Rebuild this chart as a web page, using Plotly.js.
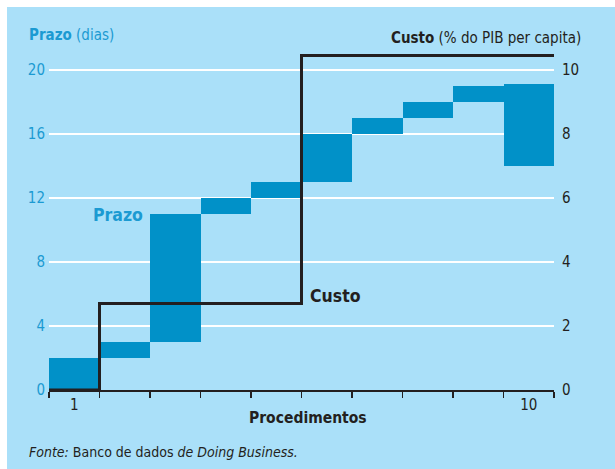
<!DOCTYPE html>
<html>
<head>
<meta charset="utf-8">
<script src="https://cdn.plot.ly/plotly-3.0.1.min.js"></script>
<style>
html,body{margin:0;padding:0;background:#ffffff;}
#chart{position:absolute;left:7px;top:7px;width:608px;height:462px;}
</style>
</head>
<body>
<div id="chart"></div>
<script>
// Data
const procedures = [1, 2, 3, 4, 5, 6, 7, 8, 9, 10];
const prazoStart = [0, 2, 3, 11, 12, 13, 16, 17, 18, 14];
const prazoEnd   = [2, 3, 11, 12, 13, 16, 17, 18, 19, 19.1];
const custo      = [0, 2.7, 2.7, 2.7, 2.7, 10.45, 10.45, 10.45, 10.45, 10.45];
const xTickLabels = ['1', '10'];
const xTickValues = [1, 10];
const leftTicks = [0, 4, 8, 12, 16, 20];
const rightTicks = [0, 2, 4, 6, 8, 10];

const FONT = "'DejaVu Sans Condensed', 'Liberation Sans Narrow', 'Liberation Sans', sans-serif";
const BLUE = '#0191C8';
const TXTBLUE = '#1B9AD2';
const DARK = '#231F20';
const BG = '#AAE0F9';

const barTrace = {
  type: 'bar',
  x: procedures,
  y: prazoEnd.map((e, i) => e - prazoStart[i]),
  base: prazoStart,
  width: 1,
  marker: {color: BLUE, line: {width: 0}},
  hoverinfo: 'skip',
  showlegend: false
};

const custoX = procedures.map(p => p - 0.5).concat([procedures[procedures.length - 1] + 0.5]);
const custoY = custo.concat([custo[custo.length - 1]]);
const lineTrace = {
  type: 'scatter',
  mode: 'lines',
  x: custoX,
  y: custoY,
  yaxis: 'y2',
  line: {color: DARK, width: 3, shape: 'hv'},
  hoverinfo: 'skip',
  showlegend: false
};

const layout = {
  width: 608,
  height: 462,
  paper_bgcolor: BG,
  plot_bgcolor: BG,
  margin: {l: 42, r: 61, t: 33, b: 79},
  font: {family: FONT, size: 15, color: DARK},
  bargap: 0,
  showlegend: false,
  xaxis: {
    range: [0.5, 10.5],
    tickmode: 'array',
    tickvals: xTickValues,
    ticktext: xTickLabels,
    ticks: '',
    showgrid: false,
    zeroline: false,
    showline: true,
    linecolor: DARK,
    linewidth: 1.5,
    tickfont: {family: FONT, size: 15, color: DARK},
    minor: {tickmode: 'linear', tick0: 0.5, dtick: 1, ticks: 'outside', ticklen: 6, tickwidth: 1.2, tickcolor: DARK, showgrid: false},
    fixedrange: true
  },
  yaxis: {
    range: [0, 21.875],
    tickmode: 'array',
    tickvals: leftTicks,
    ticks: '',
    ticklabelstandoff: 3,
    showgrid: true,
    gridcolor: '#ffffff',
    gridwidth: 2,
    zeroline: false,
    showline: false,
    tickfont: {family: FONT, size: 15, color: TXTBLUE},
    fixedrange: true
  },
  yaxis2: {
    range: [0, 10.9375],
    overlaying: 'y',
    side: 'right',
    tickmode: 'array',
    tickvals: rightTicks,
    ticks: '',
    ticklabelstandoff: 7,
    showgrid: false,
    zeroline: false,
    showline: false,
    tickfont: {family: FONT, size: 15, color: DARK},
    fixedrange: true
  },
  annotations: [
    {xref: 'paper', yref: 'paper', x: -0.0436, y: 1.014, xanchor: 'left', yanchor: 'middle', showarrow: false,
     text: '<b>Prazo</b> (dias)', font: {family: FONT, size: 15, color: TXTBLUE}},
    {xref: 'paper', yref: 'paper', x: 1.0574, y: 1.0057, xanchor: 'right', yanchor: 'middle', showarrow: false,
     text: '<b>Custo</b> (% do PIB per capita)', font: {family: FONT, size: 15, color: DARK}},
    {xref: 'x', yref: 'y', x: 1.87, y: 10.94, xanchor: 'center', yanchor: 'middle', showarrow: false,
     text: '<b>Prazo</b>', font: {family: FONT, size: 17.5, color: TXTBLUE}},
    {xref: 'x', yref: 'y', x: 5.62, y: 5.875, xanchor: 'left', yanchor: 'middle', showarrow: false,
     text: '<b>Custo</b>', font: {family: FONT, size: 17.5, color: DARK}},
    {xref: 'paper', yref: 'paper', x: 0.512, y: -0.08, xanchor: 'center', yanchor: 'middle', showarrow: false,
     text: '<b>Procedimentos</b>', font: {family: FONT, size: 15.5, color: DARK}},
    {xref: 'paper', yref: 'paper', x: -0.0436, y: -0.177, xanchor: 'left', yanchor: 'middle', showarrow: false,
     text: '<i>Fonte:</i> Banco de dados <i>de Doing Business.</i>', font: {family: FONT, size: 14, color: DARK}}
  ]
};

Plotly.newPlot('chart', [barTrace, lineTrace], layout, {displayModeBar: false, staticPlot: true});
</script>
</body>
</html>
